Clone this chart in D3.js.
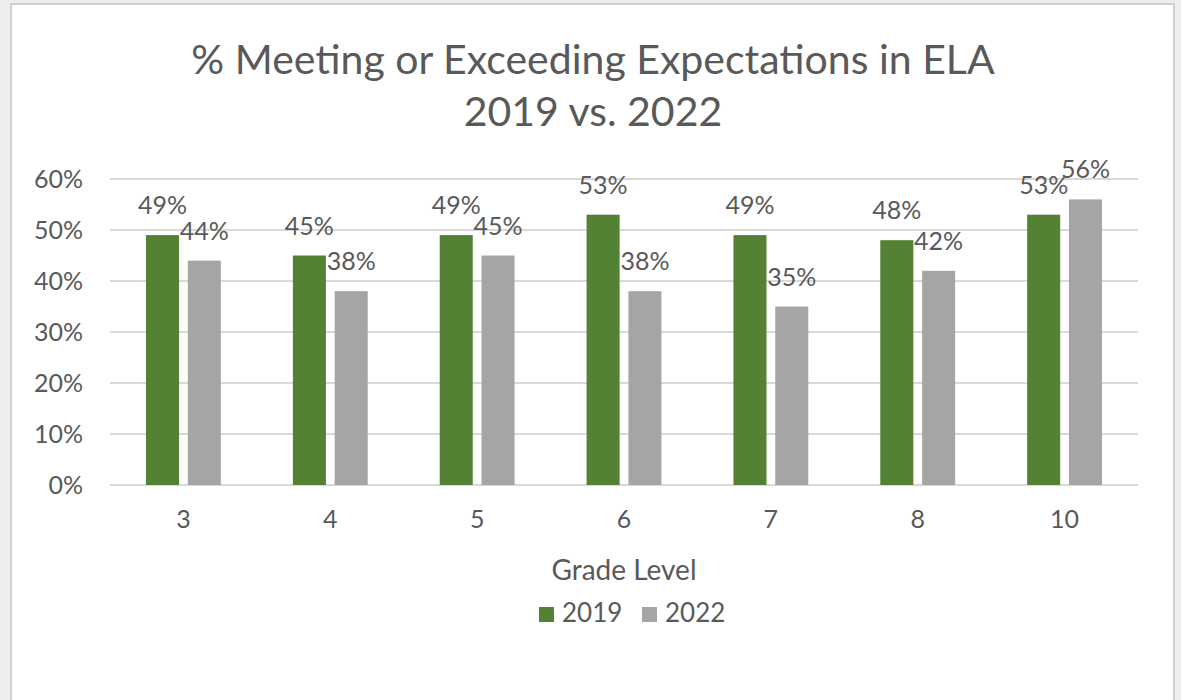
<!DOCTYPE html>
<html>
<head>
<meta charset="utf-8">
<script src="https://cdn.jsdelivr.net/npm/d3@7"></script>
<style>
  html, body { margin: 0; padding: 0; background: #eeeeee; }
  svg { display: block; }
  text { font-family: Lato, "Open Sans", sans-serif; fill: #595959; }
</style>
</head>
<body>
<div id="chart"></div>
<script>
// grade levels and % meeting/exceeding
var grades = ["3", "4", "5", "6", "7", "8", "10"];
var series = ["2019", "2022"];
var values2019 = [0.49, 0.45, 0.49, 0.53, 0.49, 0.48, 0.53];
var values2022 = [0.44, 0.38, 0.45, 0.38, 0.35, 0.42, 0.56];
var yTicks = [0, 0.1, 0.2, 0.3, 0.4, 0.5, 0.6];
var colors = {"2019": "#548235", "2022": "#a5a5a5"};

var width = 1181, height = 700;
var margin = {top: 179, right: 43, bottom: 215, left: 110};

var svg = d3.select("#chart").append("svg")
    .attr("width", width)
    .attr("height", height);

// chart frame
svg.append("rect")
    .attr("x", 11).attr("y", 4)
    .attr("width", 1163).attr("height", 710)
    .attr("fill", "#ffffff")
    .attr("stroke", "#d0d0d0")
    .attr("stroke-width", 2);

var x0 = d3.scaleBand()
    .domain(grades)
    .range([margin.left, width - margin.right]);
var x1 = d3.scaleBand()
    .domain(series)
    .range([36, x0.bandwidth() - 36])
    .paddingInner(0.21);
var y = d3.scaleLinear()
    .domain([0, 0.6])
    .range([height - margin.bottom, margin.top]);

// title
svg.append("text")
    .attr("x", 593).attr("y", 74)
    .attr("text-anchor", "middle")
    .style("font-size", "41px")
    .text("% Meeting or Exceeding Expectations in ELA");
svg.append("text")
    .attr("x", 593).attr("y", 126)
    .attr("text-anchor", "middle")
    .style("font-size", "41px")
    .text("2019 vs. 2022");

// gridlines
svg.append("g")
    .selectAll("line")
    .data(yTicks)
    .join("line")
    .attr("x1", margin.left)
    .attr("x2", width - margin.right)
    .attr("y1", function(d) { return y(d); })
    .attr("y2", function(d) { return y(d); })
    .attr("stroke", "#d9d9d9")
    .attr("stroke-width", 2);

// y axis labels
var yAxis = svg.append("g")
    .attr("transform", "translate(" + (margin.left - 27) + ",0)")
    .call(d3.axisLeft(y).tickValues(yTicks).tickFormat(d3.format(".0%")).tickSize(0).tickPadding(0));
yAxis.select(".domain").remove();
yAxis.selectAll("text")
    .style("font-size", "25px")
    .attr("fill", "#595959")
    .attr("dy", "0.35em");

// x axis labels
var xAxis = svg.append("g")
    .attr("transform", "translate(0," + y(0) + ")")
    .call(d3.axisBottom(x0).tickSize(0).tickPadding(25));
xAxis.select(".domain").remove();
xAxis.selectAll("text")
    .style("font-size", "25px")
    .attr("fill", "#595959");

// bars
var rows = grades.map(function(g, i) {
    return {grade: g, vals: [{s: "2019", v: values2019[i]}, {s: "2022", v: values2022[i]}]};
});

var groups = svg.append("g")
    .selectAll("g")
    .data(rows)
    .join("g")
    .attr("transform", function(d) { return "translate(" + x0(d.grade) + ",0)"; });

groups.selectAll("rect")
    .data(function(d) { return d.vals; })
    .join("rect")
    .attr("x", function(d) { return x1(d.s); })
    .attr("width", x1.bandwidth())
    .attr("y", function(d) { return y(d.v); })
    .attr("height", function(d) { return y(0) - y(d.v); })
    .attr("fill", function(d) { return colors[d.s]; });

groups.selectAll("text")
    .data(function(d) { return d.vals; })
    .join("text")
    .attr("x", function(d) { return x1(d.s) + x1.bandwidth() / 2; })
    .attr("y", function(d) { return y(d.v) - 21; })
    .attr("text-anchor", "middle")
    .style("font-size", "25px")
    .text(function(d) { return d3.format(".0%")(d.v); });

// axis title
svg.append("text")
    .attr("x", 624).attr("y", 580)
    .attr("text-anchor", "middle")
    .style("font-size", "28px")
    .text("Grade Level");

// legend
var legend = svg.append("g")
    .selectAll("g")
    .data(series)
    .join("g")
    .attr("transform", function(d, i) { return "translate(" + (539 + i * 103) + ",607)"; });
legend.append("rect")
    .attr("width", 15).attr("height", 15)
    .attr("fill", function(d) { return colors[d]; });
legend.append("text")
    .attr("x", 23).attr("y", 15)
    .style("font-size", "26px")
    .text(function(d) { return d; });
</script>
</body>
</html>
